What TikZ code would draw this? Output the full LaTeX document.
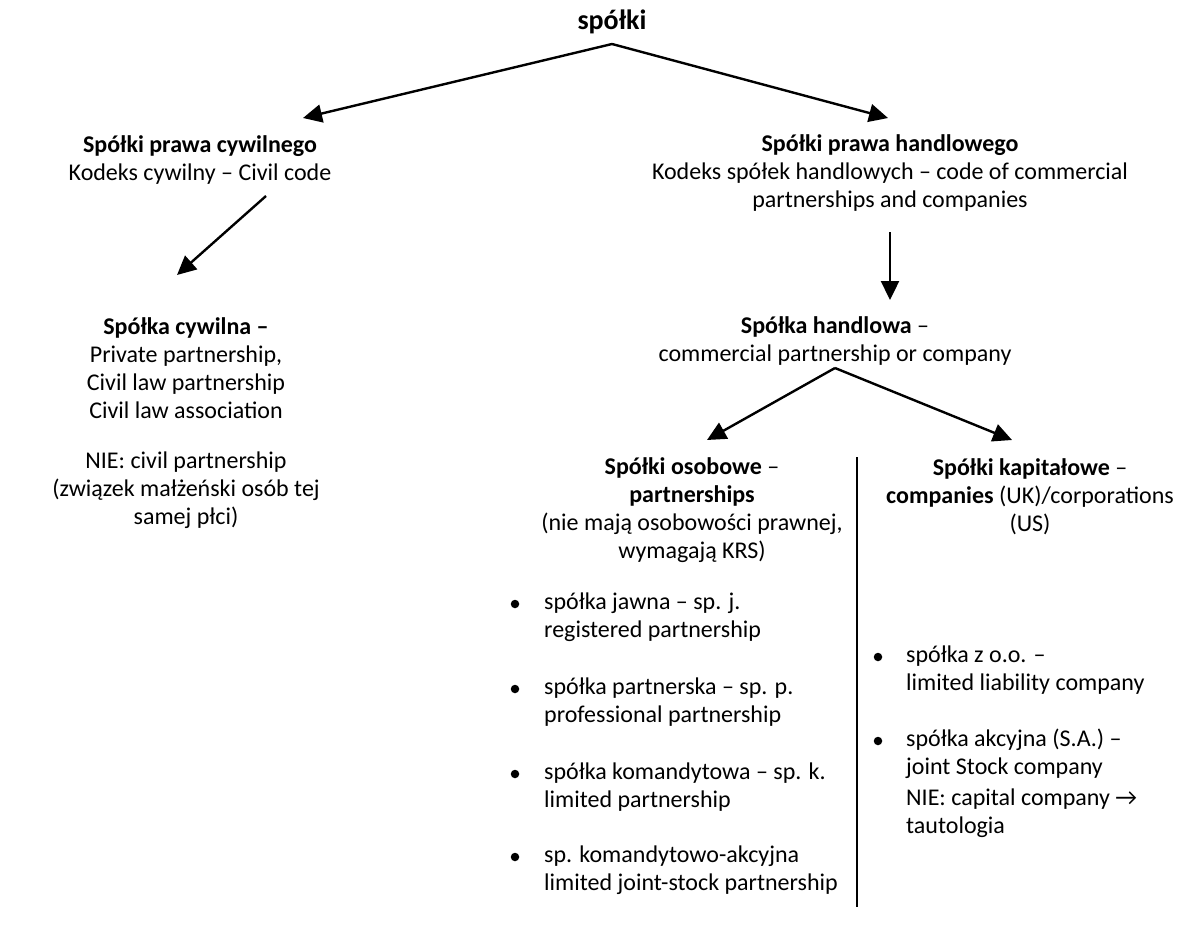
\documentclass[tikz,border=0pt]{standalone}
\usepackage{fontspec}
\setmainfont{Carlito}
\usetikzlibrary{arrows.meta,positioning}

\begin{document}
\begin{tikzpicture}[x=1pt,y=-1pt,->,>={Triangle[length=19pt,width=18pt]},line width=2.4pt,
  every node/.append style={font=\fontsize{24}{28}\selectfont,inner sep=0pt,align=center}]
  \tikzstyle{head} = [font=\fontsize{28}{32}\selectfont\bfseries]
  \tikzstyle{item} = [anchor=west,align=left]
  \tikzstyle{blt} = [circle,fill=black,minimum size=8.5pt]
  \useasboundingbox (0,0) rectangle (1186,929);
  \node (root) [head] at (612,22) {spółki};
  \node (civ) at (200,160) {\textbf{Spółki prawa cywilnego}\\Kodeks cywilny – Civil code};
  \node (han) at (890,173) {\textbf{Spółki prawa handlowego}\\Kodeks spółek handlowych – code of commercial\\partnerships and companies};
  \node (sc) at (186,368) {\textbf{Spółka cywilna –}\\Private partnership,\\Civil law partnership\\Civil law association};
  \node (scnie) at (186,490) {NIE: civil partnership\\(związek małżeński osób tej\\samej płci)};
  \node (sh) at (835,341) {\textbf{Spółka handlowa} –\\commercial partnership or company};
  \node (os) at (692,510) {\textbf{Spółki osobowe} –\\\textbf{partnerships}\\(nie mają osobowości prawnej,\\wymagają KRS)};
  \node (kap) at (1030,497) {\textbf{Spółki kapitałowe} –\\\textbf{companies} (UK)/corporations\\(US)};
  % partnerships
  \node (j) [item] at (543,617) {spółka jawna – sp. j.\\registered partnership};
  \node (p) [item] at (543,702) {spółka partnerska – sp. p.\\professional partnership};
  \node (k) [item] at (543,787) {spółka komandytowa – sp. k.\\limited partnership};
  \node (ka) [item] at (543,870) {sp. komandytowo-akcyjna\\limited joint-stock partnership};
  \node (jb) [blt] at (515,604) {};
  \node (pb) [blt] at (515,689) {};
  \node (kb) [blt] at (515,774) {};
  \node (kab) [blt] at (515,857) {};
  % companies
  \node (zoo) [item] at (905,670) {spółka z o.o. –\\limited liability company};
  \node (sa) [item] at (905,754) {spółka akcyjna (S.A.) –\\joint Stock company};
  \node (nie) [item] at (905,813) {NIE: capital company \textrightarrow\\tautologia};
  \node (zoob) [blt] at (878,657) {};
  \node (sab) [blt] at (878,741) {};
  \coordinate (rootout) at (612,44);
  \coordinate (civin) at (303,118);
  \coordinate (hanin) at (888,118);
  \coordinate (civout) at (266,196);
  \coordinate (scin) at (177,275);
  \coordinate (hanout) at (890,232);
  \coordinate (shin) at (890,300);
  \coordinate (shout) at (835,368);
  \coordinate (osin) at (707,440);
  \coordinate (kapin) at (1012,440);
  \coordinate (septop) at (857,457);
  \coordinate (sepbot) at (857,907);
  \draw (rootout) -- (civin);
  \draw (rootout) -- (hanin);
  \draw (civout) -- (scin);
  \draw (hanout) -- (shin);
  \draw (shout) -- (osin);
  \draw (shout) -- (kapin);
  \draw[-,line width=2pt] (septop) -- (sepbot);
\end{tikzpicture}
\end{document}
